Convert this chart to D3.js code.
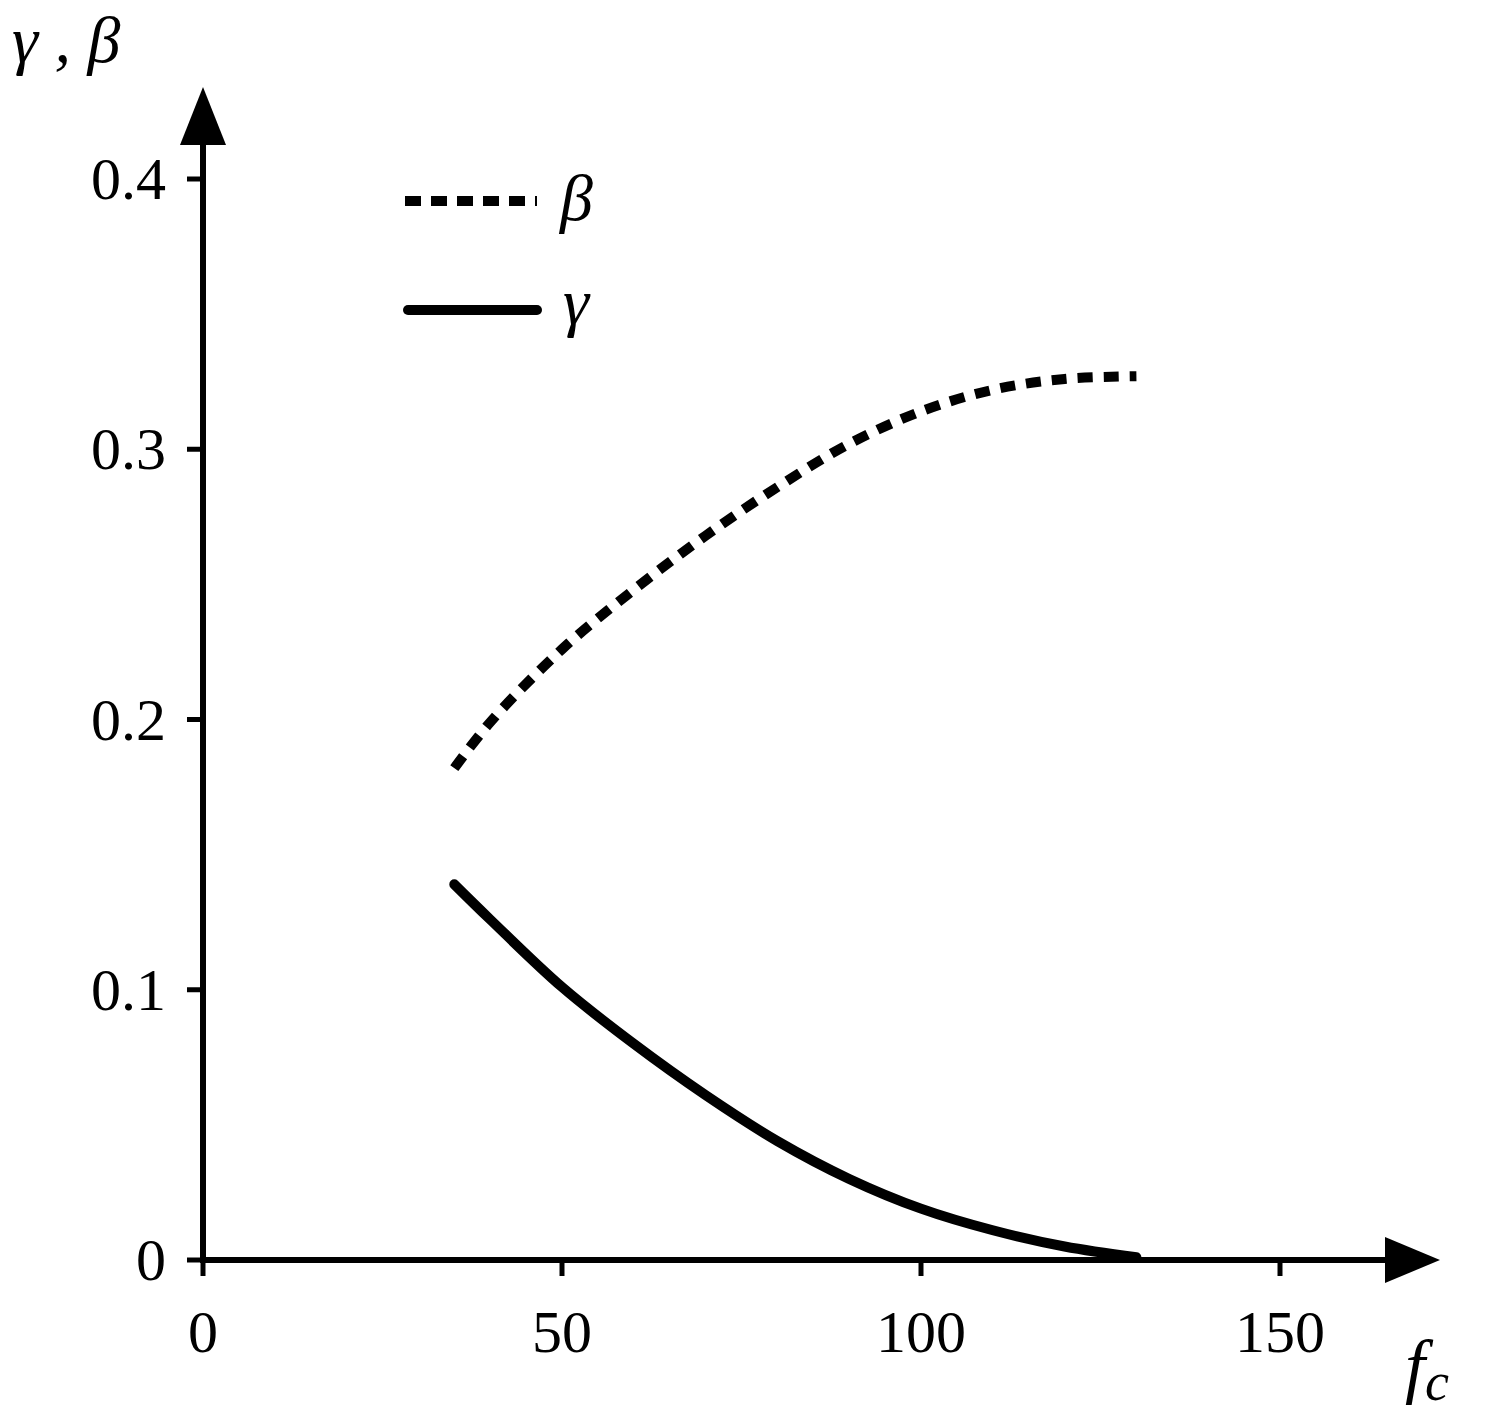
<!DOCTYPE html>
<html><head><meta charset="utf-8">
<script src="https://cdn.jsdelivr.net/npm/d3@7"></script>
<style>body{margin:0;background:#fff}</style>
</head><body><div id="chart"></div>
<script>
const betaX = [35, 40, 50, 60, 70, 80, 90, 100, 110, 120, 130];
const betaY = [0.182, 0.199, 0.226, 0.248, 0.268, 0.286, 0.302, 0.314, 0.322, 0.326, 0.327];
const gammaX = [35, 40, 50, 60, 70, 80, 90, 100, 110, 120, 130];
const gammaY = [0.139, 0.126, 0.101, 0.080, 0.061, 0.044, 0.030, 0.019, 0.011, 0.005, 0.001];
const xTicks = [0, 50, 100, 150];
const yTicks = [0, 0.1, 0.2, 0.3, 0.4];

const W = 1495, H = 1417;
const svg = d3.select("#chart").append("svg").attr("width", W).attr("height", H)
  .style("font-family", "'Liberation Serif', 'Times New Roman', serif");
const x = d3.scaleLinear().domain([0, 150]).range([203, 1280]);
const y = d3.scaleLinear().domain([0, 0.4]).range([1260, 179]);

svg.append("line").attr("x1", x(0)).attr("x2", 1395).attr("y1", y(0)).attr("y2", y(0))
  .attr("stroke", "#000").attr("stroke-width", 6);
svg.append("line").attr("x1", x(0)).attr("x2", x(0)).attr("y1", y(0) + 3).attr("y2", 130)
  .attr("stroke", "#000").attr("stroke-width", 6);
svg.append("path").attr("d", `M1385,1237 L1440,${y(0)} L1385,1283 Z`).attr("fill", "#000");
svg.append("path").attr("d", `M180,145 L${x(0)},87 L226,145 Z`).attr("fill", "#000");

xTicks.forEach(t => {
  svg.append("line").attr("x1", x(t)).attr("x2", x(t)).attr("y1", y(0)).attr("y2", y(0) + 16)
    .attr("stroke", "#000").attr("stroke-width", 5);
  svg.append("text").attr("x", x(t)).attr("y", 1352).attr("text-anchor", "middle")
    .attr("font-size", 60).text(t);
});
yTicks.forEach(t => {
  svg.append("line").attr("x1", x(0) - 16).attr("x2", x(0)).attr("y1", y(t)).attr("y2", y(t))
    .attr("stroke", "#000").attr("stroke-width", 5);
  svg.append("text").attr("x", 166).attr("y", y(t) + 20).attr("text-anchor", "end")
    .attr("font-size", 60).text(t === 0 ? "0" : t.toFixed(1));
});

const line = d3.line().x(d => x(d[0])).y(d => y(d[1])).curve(d3.curveCatmullRom);
svg.append("path").datum(betaX.map((v, i) => [v, betaY[i]])).attr("d", line)
  .attr("fill", "none").attr("stroke", "#000").attr("stroke-width", 10)
  .attr("stroke-dasharray", "15,11");
svg.append("path").datum(gammaX.map((v, i) => [v, gammaY[i]])).attr("d", line)
  .attr("fill", "none").attr("stroke", "#000").attr("stroke-width", 10).attr("stroke-linecap", "round");

svg.append("line").attr("x1", 405).attr("x2", 537).attr("y1", 201).attr("y2", 201)
  .attr("stroke", "#000").attr("stroke-width", 10).attr("stroke-dasharray", "16,10");
svg.append("text").attr("x", 560).attr("y", 220).attr("font-size", 66).attr("font-style", "italic").text("β");
svg.append("line").attr("x1", 408).attr("x2", 537).attr("y1", 310).attr("y2", 310)
  .attr("stroke", "#000").attr("stroke-width", 10).attr("stroke-linecap", "round");
svg.append("text").attr("x", 563).attr("y", 324).attr("font-size", 66).attr("font-style", "italic").text("γ");

svg.append("text").attr("x", 12).attr("y", 62).attr("font-size", 66).attr("font-style", "italic").text("γ , β");
const fl = svg.append("text").attr("x", 1405).attr("y", 1390).attr("font-size", 72).attr("font-style", "italic");
fl.append("tspan").text("f");
fl.append("tspan").attr("font-size", 54).attr("dy", 10).text("c");
</script>
</body></html>
